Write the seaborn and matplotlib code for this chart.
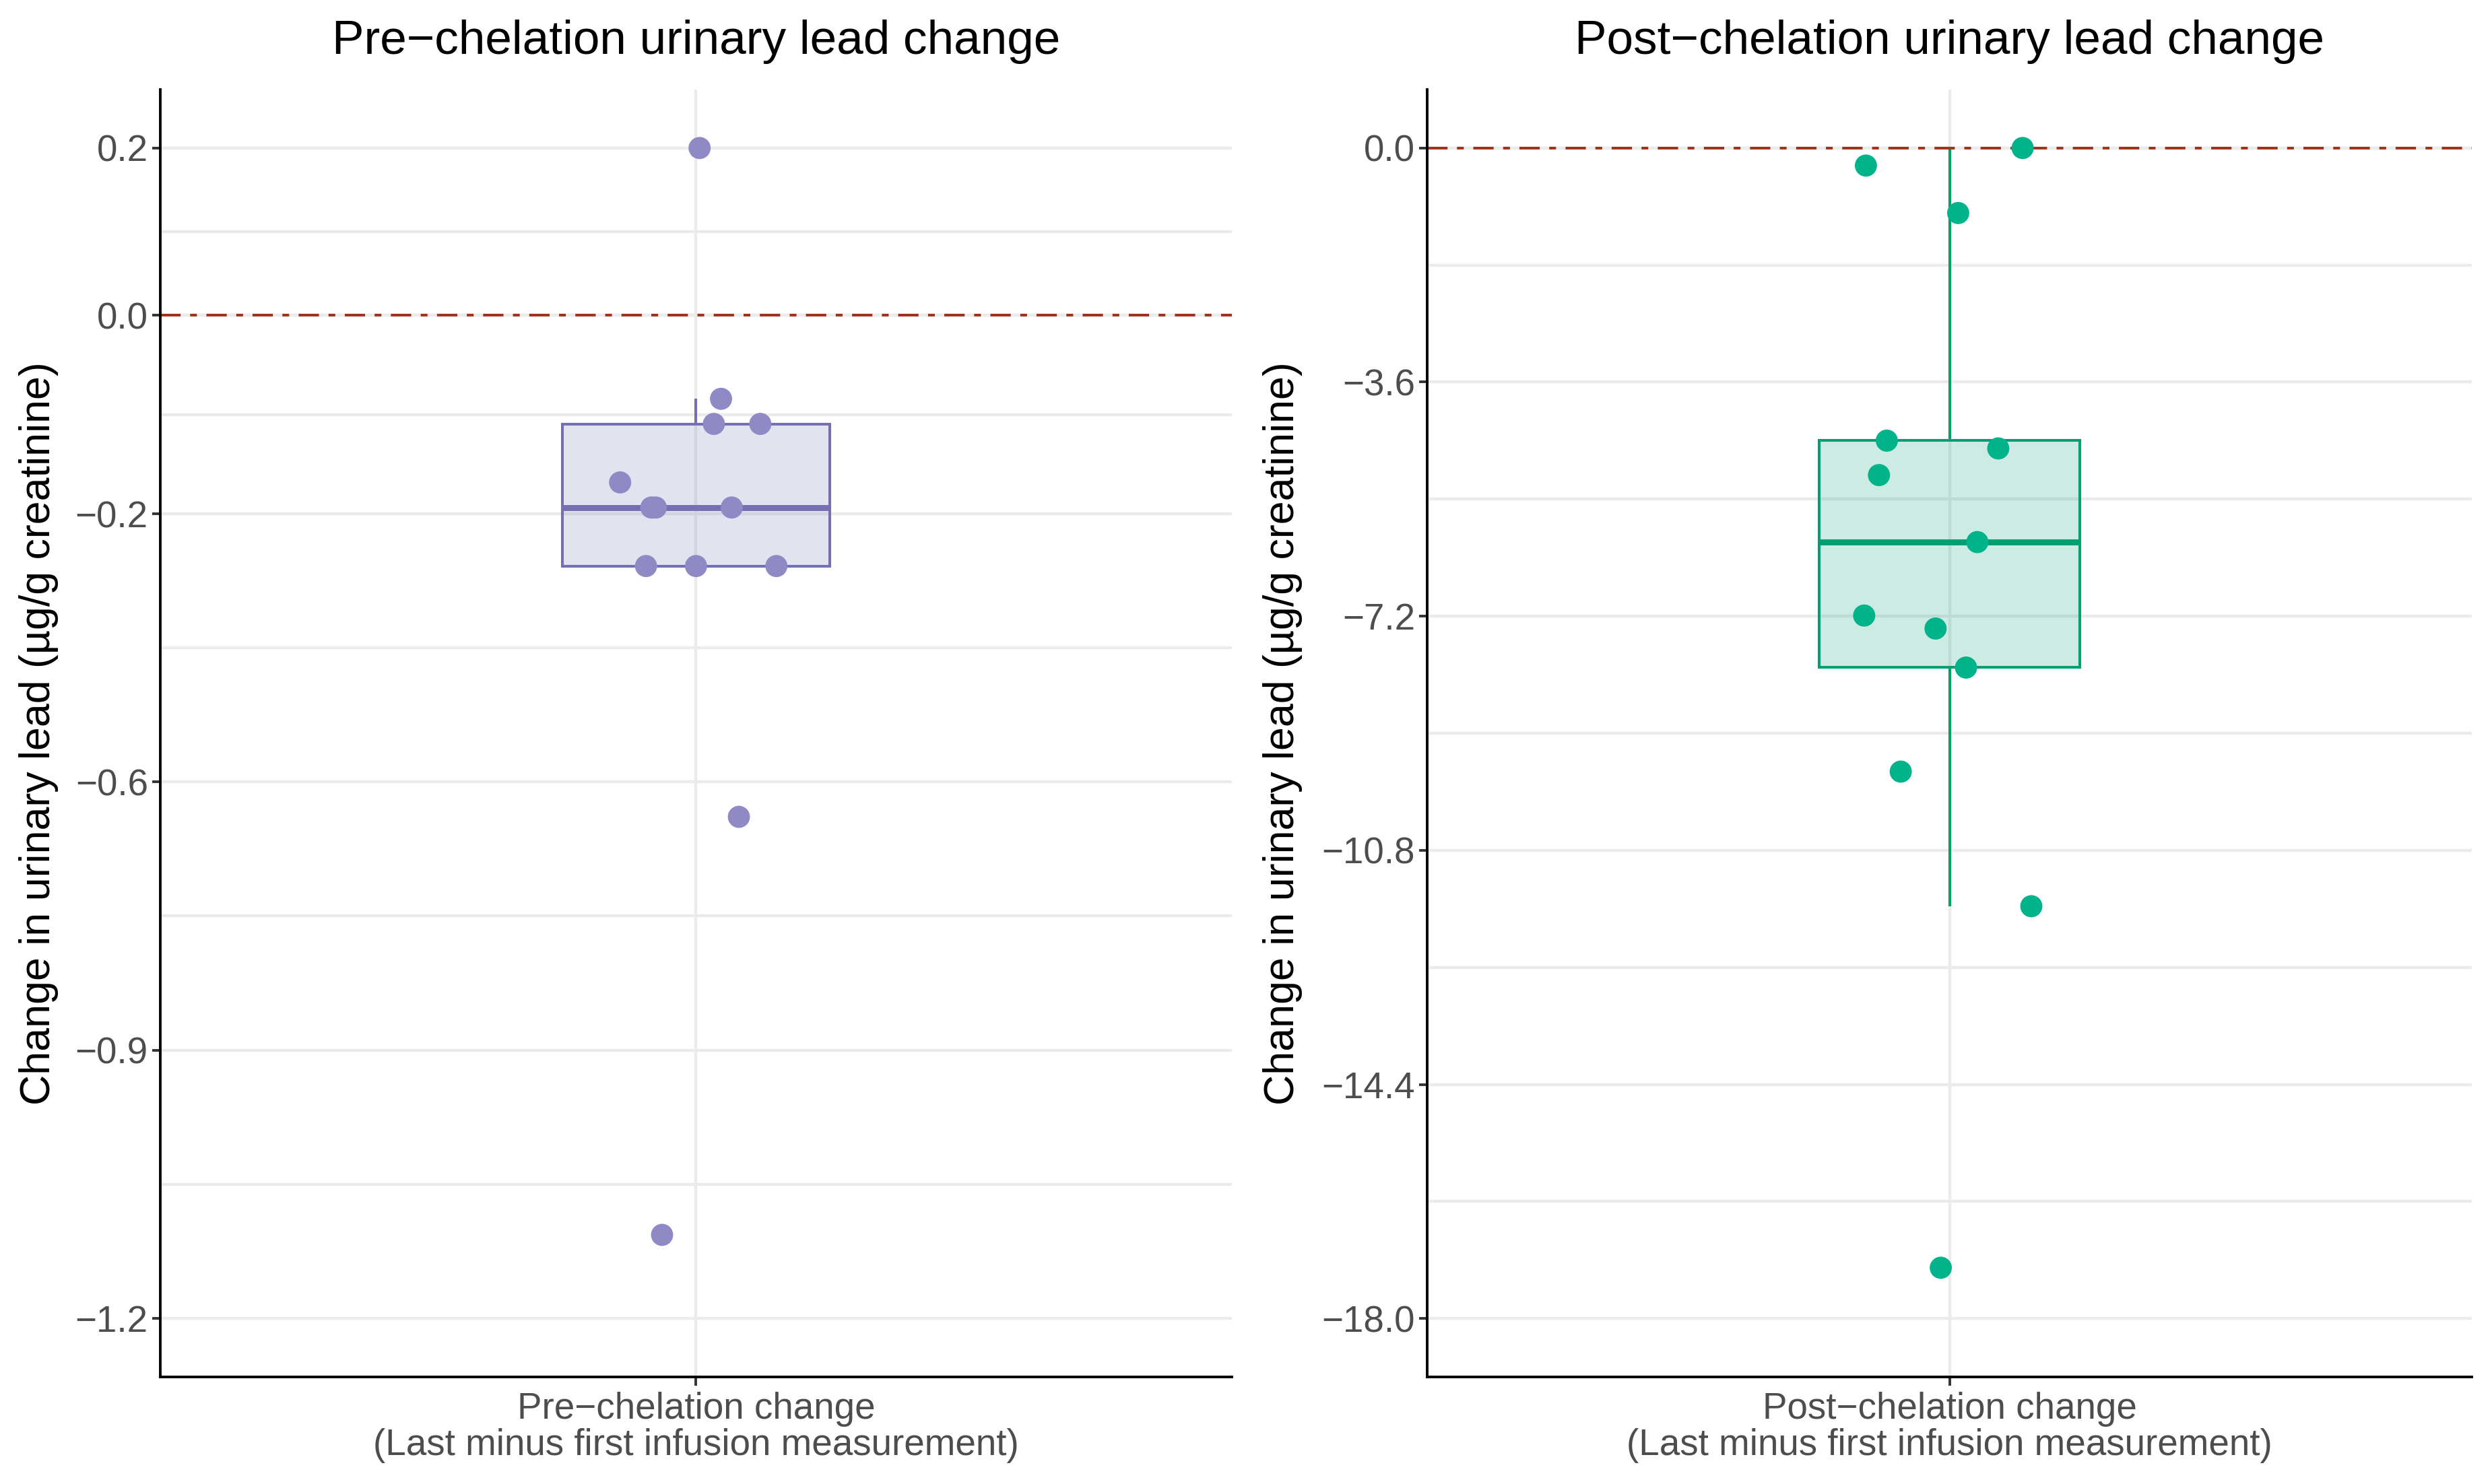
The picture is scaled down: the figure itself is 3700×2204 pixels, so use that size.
import pandas as pd
import seaborn as sns
import matplotlib.pyplot as plt
from matplotlib.colors import to_rgba
from matplotlib.ticker import FixedLocator

# values (13 patients per panel)
pre_change = [0.20, -0.10, -0.13, -0.13, -0.20, -0.23, -0.23, -0.23, -0.30, -0.30, -0.30, -0.60, -1.10]
pre_jitter = [0.004, 0.028, 0.020, 0.072, -0.085, -0.050, -0.045, 0.040, -0.056, 0.000, 0.090, 0.048, -0.038]
post_change = [0.00, -0.27, -1.00, -4.50, -4.62, -5.03, -6.06, -7.19, -7.39, -7.99, -9.59, -11.66, -17.22]
post_jitter = [0.084, -0.096, 0.010, -0.072, 0.056, -0.081, 0.032, -0.098, -0.016, 0.019, -0.056, 0.094, -0.010]

pre_ticks = [0.2, 0.0, -0.2375, -0.558, -0.879, -1.2]
pre_tick_labels = ['0.2', '0.0', '\u22120.2', '\u22120.6', '\u22120.9', '\u22121.2']
post_ticks = [0.0, -3.6, -7.2, -10.8, -14.4, -18.0]
post_tick_labels = ['0.0', '\u22123.6', '\u22127.2', '\u221210.8', '\u221214.4', '\u221218.0']

titles = ['Pre\u2212chelation urinary lead change', 'Post\u2212chelation urinary lead change']
categories = ['Pre\u2212chelation change\n(Last minus first infusion measurement)',
              'Post\u2212chelation change\n(Last minus first infusion measurement)']
ylab = 'Change in urinary lead (\u00b5g/g creatinine)'

sns.set_theme(style='white')
plt.rcParams['font.family'] = ['Liberation Sans', 'DejaVu Sans']

fig = plt.figure(figsize=(18.5, 11.02), dpi=200)
ax1 = fig.add_axes([0.0643, 0.0721, 0.4300, 0.8676])
ax2 = fig.add_axes([0.5727, 0.0721, 0.4192, 0.8676])


def draw_panel(ax, values, jitter, cat, title, box_col, pt_col, ticks, labels, lim, ylab_x):
    df = pd.DataFrame({'group': [cat] * len(values), 'change': values, 'jit': jitter})
    ax.set_axisbelow(True)
    sns.boxplot(data=df, x='group', y='change', width=0.3, color=box_col, linecolor=box_col,
                linewidth=1.45, showfliers=False, showcaps=False, whis=1.5,
                boxprops={'facecolor': to_rgba(box_col, 0.2)},
                medianprops={'linewidth': 3.2}, ax=ax)
    ax.axhline(0, color='#A0341F', lw=1.45, ls=(0, (7.5, 3.5, 2.5, 3.5)), zorder=2.5)
    sns.scatterplot(data=df, x='jit', y='change', color=pt_col, s=140, edgecolor='none',
                    linewidth=0, zorder=4, legend=False, ax=ax)

    ax.set_xlim(-0.6, 0.6)
    ax.set_ylim(*lim)
    ax.set_xticks([0])
    ax.set_xticklabels([cat], color='#4D4D4D', fontsize=19.7, linespacing=1.05)
    ax.set_yticks(ticks)
    ax.set_yticklabels(labels, color='#4D4D4D', fontsize=19.7)
    mids = [(a + b) / 2 for a, b in zip(ticks[:-1], ticks[1:])]
    ax.yaxis.set_minor_locator(FixedLocator(mids))

    ax.grid(True, which='major', color='#EBEBEB', lw=1.6)
    ax.grid(True, which='minor', axis='y', color='#EBEBEB', lw=1.6)
    ax.tick_params(which='major', length=4.5, width=1.4, color='#333333', pad=2,
                   left=True, bottom=True)
    ax.tick_params(axis='x', which='major', pad=3.5)
    ax.tick_params(which='minor', length=0)

    for side in ['top', 'right']:
        ax.spines[side].set_visible(False)
    for side in ['left', 'bottom']:
        ax.spines[side].set_color('black')
        ax.spines[side].set_linewidth(1.4)

    ax.set_title(title, fontsize=25.6, color='black', pad=19)
    ax.set_xlabel('')
    ax.set_ylabel(ylab, fontsize=22.6, color='black')
    ax.yaxis.set_label_coords(ylab_x, 0.5)


draw_panel(ax1, pre_change, pre_jitter, categories[0], titles[0], '#7570B3', '#8F8AC5',
           pre_ticks, pre_tick_labels, (-1.27, 0.27), -0.095)
draw_panel(ax2, post_change, post_jitter, categories[1], titles[1], '#009E73', '#00B38A',
           post_ticks, post_tick_labels, (-18.9, 0.9), -0.119)

fig.savefig('out.png', dpi=200)
